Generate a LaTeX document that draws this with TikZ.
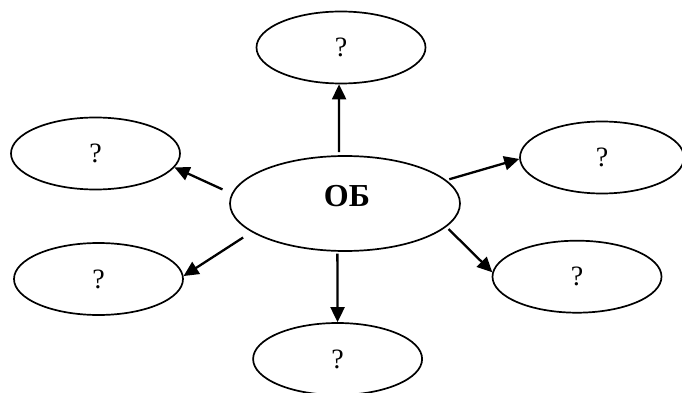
\documentclass[tikz,border=0pt]{standalone}
\usepackage{fontspec}
\setmainfont{Liberation Serif}
\usepackage{tikz}
\usetikzlibrary{positioning,shapes,arrows.meta}
\tikzstyle{QNode}=[ellipse, draw=black, line width=1.7pt, minimum width=169pt, minimum height=72pt, inner sep=0pt, font=\fontsize{28}{32}\selectfont]
\tikzstyle{MainNode}=[ellipse, draw=black, line width=1.7pt, minimum width=230pt, minimum height=95pt, inner sep=0pt]
\tikzstyle{LinkArr}=[line width=2.3pt, -{Triangle[length=15pt,width=14pt]}]

\begin{document}
\begin{tikzpicture}[x=1pt, y=-1pt]
      \useasboundingbox (0,0) rectangle (682,393);
      \node[MainNode, label={[xshift=2pt, yshift=7.5pt, font=\bfseries\fontsize{32}{36}\selectfont]center:ОБ}] (c) at (345,203.5) {};
      \node[QNode] (1) at (341,47.5) {?};
      \node[QNode] (2) at (95.5,153.5) {?};
      \node[QNode] (3) at (98.5,279) {?};
      \node[QNode] (4) at (337.6,359) {?};
      \node[QNode, minimum width=164pt] (5) at (602,157.5) {?};
      \node[QNode] (6) at (577,276.7) {?};
      \draw[LinkArr, shorten <=3pt] (c.97) -- (1.-93);
      \draw[LinkArr, shorten <=10pt] (c.175) -- (2.-10.5);
      \draw[LinkArr, shorten <=10pt] (c.-163.3) -- (3.2.7);
      \draw[LinkArr, shorten <=2pt] (c.-99) -- (4.north);
      \draw[LinkArr, shorten <=3pt] (c.13.2) -- (5.181);
      \draw[LinkArr, shorten <=3pt] (c.-13.2) -- (6.177.6);
    \end{tikzpicture}
\end{document}
